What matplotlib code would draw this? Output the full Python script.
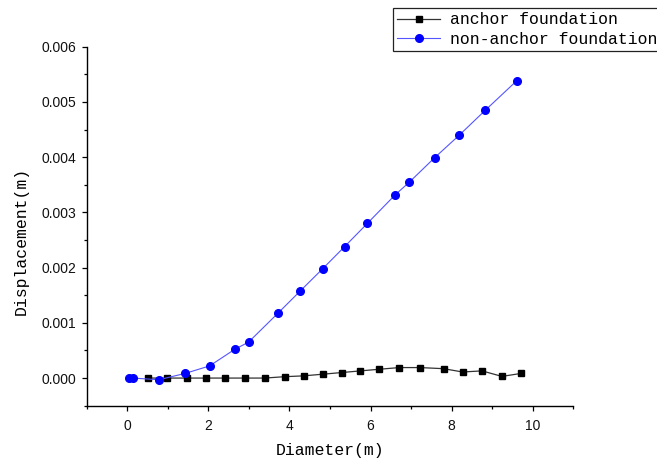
import matplotlib
matplotlib.use("Agg")
import matplotlib.pyplot as plt
from matplotlib.ticker import MultipleLocator, FormatStrFormatter

# anchor foundation (black squares)
anchor_x = [0.51, 0.98, 1.47, 1.95, 2.42, 2.91, 3.39, 3.88, 4.35, 4.82,
            5.29, 5.75, 6.22, 6.71, 7.22, 7.80, 8.27, 8.75, 9.24, 9.72]
anchor_y = [0.0, 0.0, 0.0, 0.0, 0.0, 0.0, 0.0, 0.000025, 0.00004, 0.00007,
            0.0001, 0.00013, 0.00016, 0.00019, 0.00019, 0.00017, 0.00011,
            0.00013, 0.00003, 0.000085]

# non-anchor foundation (blue circles)
free_x = [0.04, 0.14, 0.78, 1.43, 2.03, 2.65, 2.99, 3.71, 4.27, 4.82,
          5.36, 5.92, 6.61, 6.96, 7.58, 8.19, 8.83, 9.60]
free_y = [0.0, 0.0, -0.00003, 0.000085, 0.00022, 0.00052, 0.00065, 0.00117,
          0.00158, 0.00198, 0.00238, 0.0028, 0.00332, 0.00355, 0.00399,
          0.0044, 0.00485, 0.00538]

labels = ["anchor foundation", "non-anchor foundation"]

label_font = "Liberation Mono"
tick_font = "Liberation Sans"

fig = plt.figure(figsize=(6.57, 4.63), dpi=100)
ax = fig.add_axes([0.132, 0.1238, 0.7406, 0.7753])

ax.plot(anchor_x, anchor_y, color="#333333", lw=0.9, marker="s", ms=5,
        mfc="black", mec="black", label=labels[0])
ax.plot(free_x, free_y, color="#5555ff", lw=0.8, marker="o", ms=5.5,
        mfc="blue", mec="blue", label=labels[1])

ax.set_xlim(-1, 11)
ax.set_ylim(-0.0005, 0.006)
ax.xaxis.set_major_locator(MultipleLocator(2))
ax.xaxis.set_minor_locator(MultipleLocator(1))
ax.yaxis.set_major_locator(MultipleLocator(0.001))
ax.yaxis.set_minor_locator(MultipleLocator(0.0005))
ax.yaxis.set_major_formatter(FormatStrFormatter("%.3f"))

for s in ["top", "right"]:
    ax.spines[s].set_visible(False)
for s in ["left", "bottom"]:
    ax.spines[s].set_linewidth(1.0)

ax.tick_params(which="major", direction="out", length=3.8, width=0.9)
ax.tick_params(which="minor", direction="out", length=2.2, width=0.9)
ax.tick_params(axis="x", pad=5.5)
ax.tick_params(axis="y", pad=3.5)
for t in ax.get_xticklabels() + ax.get_yticklabels():
    t.set_fontfamily(tick_font)
    t.set_fontsize(10)
    t.set_color("#111111")

ax.set_xlabel("Diameter(m)", fontfamily=label_font, fontsize=11.9)
ax.set_ylabel("Displacement(m)", fontfamily=label_font, fontsize=11.9)
ax.xaxis.set_label_coords(0.5, -0.105)
ax.yaxis.set_label_coords(-0.12, 0.46)

leg = fig.legend(loc="upper left", bbox_to_anchor=(393.3 / 657, 1 - 8.3 / 463),
                 prop={"family": label_font, "size": 11.9},
                 frameon=True, fancybox=False, edgecolor="#222222",
                 framealpha=1, borderaxespad=0, borderpad=0.25,
                 handlelength=2.6, handletextpad=0.6, labelspacing=0.25)
leg.get_frame().set_linewidth(0.9)

fig.savefig("out.png", dpi=100)
